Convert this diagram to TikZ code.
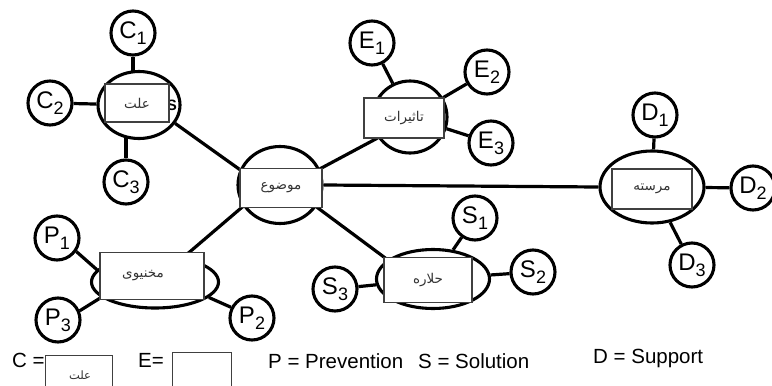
\documentclass[tikz,border=0pt]{standalone}
\usepackage{fontspec}
\setmainfont{Liberation Sans}
\newfontfamily\arabicfont[Script=Arabic]{DejaVu Sans}
\TeXXeTstate=1
\usetikzlibrary{shapes.geometric,backgrounds}

% letter with a lowered index, as in C1, E2 ...
\newcommand{\idx}[2]{{\fontsize{24}{24}\selectfont #1}\raisebox{-6pt}{\fontsize{18}{18}\selectfont #2}}
% right-to-left Arabic-script label
\newcommand{\rtl}[1]{{\arabicfont\beginR #1\endR}}

\tikzset{
  hub/.style={ellipse, draw, line width=3.1pt, fill=white, inner sep=0pt},
  leaf/.style={circle, draw, line width=3.1pt, fill=white, minimum size=44pt, inner sep=0pt},
  tag/.style={rectangle, draw=black!75, line width=1.2pt, fill=white, inner sep=0pt,
              text=black!80, font=\fontsize{13.5}{13.5}\selectfont},
  link/.style={line width=3.2pt},
  legend/.style={anchor=base west, inner sep=0pt, font=\fontsize{20.5}{20.5}\selectfont}
}

\begin{document}
\begin{tikzpicture}[x=1pt, y=-1pt]
\useasboundingbox (0,0) rectangle (772,386);

% ---- hubs (ellipses) ----
\node[hub, minimum width=82pt, minimum height=67pt] (cause) at (139,105) {};
\node[anchor=center, inner sep=0pt, font=\bfseries\fontsize{15}{15}\selectfont] (frag) at (172,105) {S};
\node[tag, minimum width=64pt, minimum height=38pt] (causebox) at (137,103) {\rtl{علت}};

\node[hub, minimum width=84pt, minimum height=77pt] (topic) at (280,185) {};
\node[tag, minimum width=82pt, minimum height=39pt] (topicbox) at (281,188) {\rtl{موضوع}};

\node[hub, minimum width=74pt, minimum height=72pt] (tas) at (410,117) {};
\node[tag, minimum width=80pt, minimum height=40pt] (tasbox) at (404,118) {\rtl{تاثیرات}};

\node[hub, minimum width=104pt, minimum height=72pt] (mar) at (652,187) {};
\node[tag, minimum width=80pt, minimum height=40pt] (marbox) at (652,189) {\rtl{مرسته}};

\node[hub, minimum width=127pt, minimum height=52pt] (mkh) at (155,282) {};
\node[tag, minimum width=104pt, minimum height=47pt] (mkhbox) at (152,276) {};
\node[inner sep=0pt, text=black!80, font=\fontsize{13.5}{13.5}\selectfont] (mkhtext) at (143,276) {\rtl{مخنیوی}};

\node[hub, minimum width=113pt, minimum height=59pt] (hal) at (433,279) {};
\node[tag, minimum width=88pt, minimum height=45pt] (halbox) at (428,280) {\rtl{حلاره}};

% ---- leaves (circles) ----
\node[leaf] (c1) at (133,33) {\idx{C}{1}};
\node[leaf] (c2) at (50,103) {\idx{C}{2}};
\node[leaf] (c3) at (126,182) {\idx{C}{3}};

\node[leaf] (e1) at (372,43) {\idx{E}{1}};
\node[leaf] (e2) at (487,72) {\idx{E}{2}};
\node[leaf] (e3) at (491,143) {\idx{E}{3}};

\node[leaf] (d1) at (655,115) {\idx{D}{1}};
\node[leaf] (d2) at (753,188) {\idx{D}{2}};
\node[leaf] (d3) at (692,265) {\idx{D}{3}};

\node[leaf] (p1) at (57,238) {\idx{P}{1}};
\node[leaf] (p2) at (252,318) {\idx{P}{2}};
\node[leaf] (p3) at (58,320) {\idx{P}{3}};

\node[leaf] (s1) at (475,218) {\idx{S}{1}};
\node[leaf] (s2) at (533,272) {\idx{S}{2}};
\node[leaf] (s3) at (335,289) {\idx{S}{3}};

% ---- page colour and connectors, kept behind the shapes ----
\begin{pgfonlayer}{background}
  \fill[white] (0,0) rectangle (772,386);

  \draw[link] (cause.-27) -- (topic.159);
  \draw[link] (topic.22) -- (tas.-147);
  \draw[link] (topic.east) -- (mar.west);
  \draw[link] (topic.210) -- (mkh.41);
  \draw[link] (topic.-31) -- (hal.157);

  \draw[link] (c1) -- (c1 |- cause);
  \draw[link] (c2) -- (cause);
  \draw[link] (c3) -- (c3 |- cause);

  \draw[link] (e1) -- (tas);
  \draw[link] (e2) -- (tas);
  \draw[link] (e3) -- (tas);

  \draw[link] (d1) -- (mar);
  \draw[link] (d2) -- (mar);
  \draw[link] (d3) -- (mar);

  \draw[link] (p1.-35) -- (mkh.168);
  \draw[link] (p3.23) -- (mkh.196);
  \draw[link] (p2.153) -- (mkh.-16);

  \draw[link] (s1) -- (hal);
  \draw[link] (s2) -- (hal);
  \draw[link] (s3) -- (hal);
\end{pgfonlayer}

% ---- legend ----
\node[legend] (lc) at (12,367) {C =};
\node[tag, anchor=north west, minimum width=67pt, minimum height=40pt] (lcbox) at (45,355) {};
\node[inner sep=0pt, text=black!80, font=\fontsize{11.5}{11.5}\selectfont] (lctext) at (80,375) {\rtl{علت}};
\node[legend] (le) at (138,367) {E=};
\node[tag, anchor=north west, minimum width=59pt, minimum height=42pt] (lebox) at (172,352) {};
\node[legend] (lp) at (268,368) {P = Prevention};
\node[legend] (ls) at (418,368) {S = Solution};
\node[legend] (ld) at (593,363) {D = Support};
\end{tikzpicture}
\end{document}
